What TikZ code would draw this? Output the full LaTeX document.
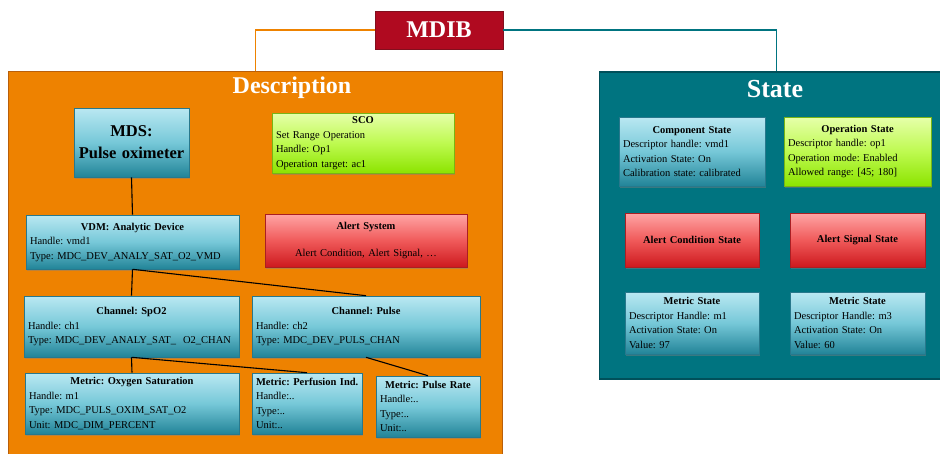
\documentclass[tikz,border=0pt]{standalone}
\usepackage{fontspec}
\setmainfont{Liberation Serif}
\usetikzlibrary{shadows}
\frenchspacing

\definecolor{mdibred}{RGB}{176,10,32}
\definecolor{mdibedge}{RGB}{130,15,30}
\definecolor{descfill}{RGB}{238,130,0}
\definecolor{descedge}{RGB}{185,95,10}
\definecolor{statefill}{RGB}{0,116,128}
\definecolor{stateedge}{RGB}{0,80,90}
\definecolor{bluetop}{RGB}{186,232,242}
\definecolor{bluemid}{RGB}{118,200,216}
\definecolor{bluebot}{RGB}{34,132,152}
\definecolor{blueedge}{RGB}{40,120,140}
\definecolor{greentop}{RGB}{230,255,170}
\definecolor{greenmid}{RGB}{190,250,80}
\definecolor{greenbot}{RGB}{140,228,0}
\definecolor{greenedge}{RGB}{120,180,20}
\definecolor{redtop}{RGB}{255,165,165}
\definecolor{redmid}{RGB}{240,90,90}
\definecolor{redbot}{RGB}{205,25,30}
\definecolor{rededge}{RGB}{170,30,35}

\tikzset{
  panel/.style={rectangle, line width=1.6pt, inner sep=0pt},
  paneltitle/.style={text=white, font=\bfseries\fontsize{24}{28}\selectfont},
  card/.style={rectangle, line width=0.6pt, inner xsep=4pt, inner ysep=0pt,
    align=left, font=\fontsize{10.5}{14.5}\selectfont,
    drop shadow={opacity=0.45, shadow xshift=1.3pt, shadow yshift=-1.6pt}},
  bluecard/.style={card, draw=blueedge, top color=bluetop, bottom color=bluebot, middle color=bluemid},
  greencard/.style={card, draw=greenedge, top color=greentop, bottom color=greenbot, middle color=greenmid},
  redcard/.style={card, draw=rededge, top color=redtop, bottom color=redbot, middle color=redmid},
  link/.style={draw=black, line width=1.1pt},
  branch/.style={line width=1.2pt}
}
% centred bold heading line inside a left-aligned card
\newcommand\hdr[1]{\hbox to\hsize{\hfil\textbf{#1}\hfil}\\}

\begin{document}
\begin{tikzpicture}[x=1pt, y=-1pt]
\useasboundingbox (0,0) rectangle (940,453);
\clip (0,0) rectangle (940,453);
\fill[white] (0,0) rectangle (940,453);

% top-level panels
\node[panel, draw=descedge, fill=descfill, minimum width=494pt, minimum height=390pt, anchor=north west] (desc) at (7.5,70.5) {};
\node[panel, draw=stateedge, fill=statefill, minimum width=354pt, minimum height=307pt, anchor=north west] (state) at (598.5,71) {};
\node[paneltitle] (desctitle) at (292,88) {Description};
\node[paneltitle, font=\bfseries\fontsize{26}{28}\selectfont] (statetitle) at (775,89) {State};

% root
\node[rectangle, draw=mdibedge, line width=0.8pt, fill=mdibred, text=white,
      minimum width=128pt, minimum height=38pt, font=\bfseries\fontsize{24}{26}\selectfont,
      drop shadow={opacity=0.3, shadow xshift=1pt, shadow yshift=-1pt}] (mdib) at (439,30) {MDIB};
\draw[branch, draw=descfill] (mdib.west) -| (desc.north);
\draw[branch, draw=statefill] (mdib.east) -| (state.north);

% description tree
\node[bluecard, minimum width=115pt, minimum height=69pt, text width=107pt, align=center,
      font=\bfseries\fontsize{16.5}{22}\selectfont] (mds) at (131.5,142.5) {MDS:\\Pulse oximeter};
\node[greencard, minimum width=182pt, minimum height=60pt, text width=174pt] (sco) at (363,143)
  {\hdr{SCO}Set Range Operation\\Handle: Op1\\Operation target: ac1};
\node[bluecard, minimum width=213pt, minimum height=54pt, text width=205pt] (vdm) at (132.5,242)
  {\hdr{VDM: Analytic Device}Handle: vmd1\\Type: MDC\_DEV\_ANALY\_SAT\_O2\_VMD};
\node[redcard, minimum width=202pt, minimum height=53pt, text width=194pt, align=center] (alsys) at (366,240.5)
  {\textbf{Alert System}\\[13pt]Alert Condition, Alert Signal, …};
\node[bluecard, minimum width=215pt, minimum height=61pt, text width=207pt] (chspo) at (131.5,326.5)
  {\hdr{Channel: SpO2}Handle: ch1\\Type: MDC\_DEV\_ANALY\_SAT\_\ \ O2\_CHAN};
\node[bluecard, minimum width=228pt, minimum height=61pt, text width=220pt] (chpulse) at (366,326.5)
  {\hdr{Channel: Pulse}Handle: ch2\\Type: MDC\_DEV\_PULS\_CHAN};
\node[bluecard, minimum width=214pt, minimum height=61pt, text width=206pt] (msat) at (132,403.5)
  {\hdr{Metric: Oxygen Saturation}Handle: m1\\Type: MDC\_PULS\_OXIM\_SAT\_O2\\Unit: MDC\_DIM\_PERCENT};
\node[bluecard, minimum width=110pt, minimum height=61pt, text width=102pt] (mperf) at (307,403.5)
  {\hdr{Metric: Perfusion Ind.}Handle:..\\Type:..\\Unit:..};
\node[bluecard, minimum width=104pt, minimum height=61pt, text width=96pt] (mrate) at (428,406.5)
  {\hdr{Metric: Pulse Rate}Handle:..\\Type:..\\Unit:..};

\draw[link] (mds.south) -- (vdm.north);
\draw[link] (vdm.south) -- (chspo.north);
\draw[link] (vdm.south) -- (chpulse.north);
\draw[link] (chspo.south) -- (msat.north);
\draw[link] (chspo.south) -- (mperf.north);
\draw[link] (chpulse.south) -- (mrate.north);

% state side
\node[bluecard, minimum width=146pt, minimum height=69pt, text width=138pt] (compst) at (692,151.5)
  {\hdr{Component State}Descriptor handle: vmd1\\Activation State: On\\Calibration state: calibrated};
\node[greencard, minimum width=147pt, minimum height=69pt, text width=139pt] (opst) at (857.5,151.5)
  {\hdr{Operation State}Descriptor handle: op1\\Operation mode: Enabled\\Allowed range: [45; 180]};
\node[redcard, minimum width=134pt, minimum height=54pt, text width=126pt, align=center] (alcond) at (692,240)
  {\textbf{Alert Condition State}};
\node[redcard, minimum width=135pt, minimum height=54pt, text width=127pt, align=center] (alsig) at (857.5,240)
  {\textbf{Alert Signal State}};
\node[bluecard, minimum width=134pt, minimum height=62pt, text width=126pt] (mst1) at (692,323)
  {\hdr{Metric State}Descriptor Handle: m1\\Activation State: On\\Value: 97};
\node[bluecard, minimum width=135pt, minimum height=62pt, text width=127pt] (mst2) at (857.5,323)
  {\hdr{Metric State}Descriptor Handle: m3\\Activation State: On\\Value: 60};
\end{tikzpicture}
\end{document}
